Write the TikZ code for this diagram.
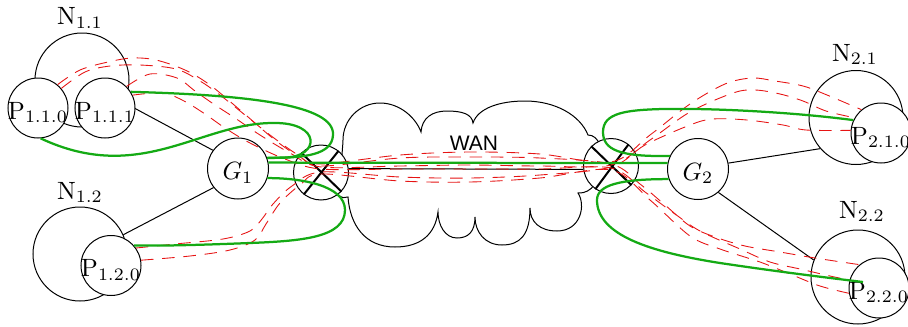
\documentclass[tikz,border=0pt]{standalone}
\usepackage{fontspec}
\newfontfamily\wanfont{Liberation Sans}
\definecolor{grn}{RGB}{20,170,20}
\definecolor{tred}{RGB}{230,20,20}
\newcommand{\ctext}[1]{\makebox[0pt]{#1}}
\begin{document}
\begin{tikzpicture}[x=0.4pt,y=-0.4pt,
  circ/.style={circle,draw,line width=0.4pt,inner sep=0pt,text height=8.8pt,text depth=0pt},
  pnode/.style={circ,fill=white,minimum size=24pt},
  gnode/.style={circ,fill=white,minimum size=24.4pt},
  nnode/.style={circle,draw,line width=0.4pt,minimum size=37.6pt,inner sep=0pt},
  rnode/.style={circle,draw,fill=white,line width=0.4pt,minimum size=22pt,inner sep=0pt},
  xline/.style={line width=0.8pt},
  link/.style={line width=0.4pt},
  tunnel/.style={draw=tred,line width=0.35pt,dash pattern=on 5pt off 3.5pt},
  gpath/.style={draw=grn,line width=0.9pt},
  lab/.style={anchor=base,inner sep=0pt}]
\useasboundingbox (0,0) rectangle (908,327);

% network circles
\node[nnode] (N11) at (82,80) {};
\node[nnode] (N12) at (80,254) {};
\node[nnode] (N21) at (856,117.5) {};
\node[nnode] (N22) at (858,277) {};
\node[lab] (l11) at (80,24.3) {N$_{1.1}$};
\node[lab] (l12) at (80,199) {N$_{1.2}$};
\node[lab] (l21) at (855,61) {N$_{2.1}$};
\node[lab] (l22) at (862,218) {N$_{2.2}$};

% gateways
\node[gnode] (G1) at (238,168.5) {\ctext{$G_1$}};
\node[gnode] (G2) at (698,169) {\ctext{$G_2$}};

% black links
\draw[link] (N11) -- (G1.144);
\draw[link] (N12.24) -- (G1.218);
\draw[link] (G2.11) -- (N21.221);
\draw[link] (G2.-49) -- (N22.159);

% hosts
\node[pnode] (P110) at (38,108) {\ctext{$\mathrm{P}_{1.1.0}$}};
\node[pnode] (P111) at (105,108) {\ctext{$\mathrm{P}_{1.1.1}$}};
\node[pnode] (P120) at (111,265.5) {\ctext{$\mathrm{P}_{1.2.0}$}};
\node[pnode] (P210) at (881,133) {\ctext{$\mathrm{P}_{2.1.0}$}};
\node[pnode] (P220) at (879,288) {\ctext{$\mathrm{P}_{2.2.0}$}};
\coordinate (g220) at (863,282);

% cloud
\draw[link,fill=white] (348,197) .. controls (336,203) and (320,172) .. (342,158)
 .. controls (342,150) and (343,145) .. (343,140)
 .. controls (343,119.6) and (359.6,103) .. (380,103)
 .. controls (400,103) and (416,118) .. (421,132)
 .. controls (422,118) and (432,111) .. (447,111)
 .. controls (462,111) and (472,114) .. (473,123)
 .. controls (478,108) and (500,101) .. (525,101)
 .. controls (555,101) and (580,115) .. (588,135)
 .. controls (610,135) and (606,195) .. (578,193)
 .. controls (586,205) and (581,231) .. (557,231)
 .. controls (540,231) and (530,222) .. (530,208)
 .. controls (530,235) and (520,245) .. (502,245)
 .. controls (485,245) and (475,232) .. (475,217)
 .. controls (475,232) and (468,238) .. (457,238)
 .. controls (445,238) and (438,225) .. (438,212)
 .. controls (435,235) and (420,247) .. (395,247)
 .. controls (365,247) and (350,225) .. (348,197) -- cycle;
\node[lab] (wan) at (474,150) {\wanfont\fontsize{8.4}{10}\selectfont WAN};

% routers
\node[rnode] (R1) at (321,172.5) {};
\node[rnode] (R2) at (611,166) {};
\draw[xline] (R1.135) -- (R1.-43) (R1.51) -- (R1.232);
\draw[xline] (R2.135) -- (R2.-43) (R2.51) -- (R2.236);
\draw[link] (R1.8.5) -- (R2.187);

% tunnels
\draw[tunnel] plot[smooth,tension=0.55] coordinates {(P110.50) (80,70) (108,62) (132,58) (156,60) (185,70) (210,85) (240,110) (275,140) (300,157) (321,164) (400,155) (470,152) (540,154) (611,162) (650,135) (690,104) (725,84) (752,78) (775,81) (803,86) (827,95) (P210.130)};
\draw[tunnel] plot[smooth,tension=0.55] coordinates {(P110.40) (85,72) (110,66) (140,65) (176,69) (200,81) (220,95) (245,115) (270,135) (298,155) (321,166) (400,158) (470,157) (540,158) (611,164) (640,184) (665,205) (690,226) (715,237) (745,246) (780,252) (815,258) (P220.130)};
\draw[tunnel] plot[smooth,tension=0.55] coordinates {(P111.45) (150,74) (177,78) (195,91) (215,105) (235,118) (260,135) (290,153) (321,167) (400,166) (470,165) (540,166) (611,165) (650,140) (690,112) (733,93) (755,90) (780,94) (803,101) (826,111) (P210.150)};
\draw[tunnel] plot[smooth,tension=0.55] coordinates {(P111.25) (163,93) (184,101) (205,114) (225,128) (250,143) (285,159) (321,169) (400,169) (470,169) (540,169) (611,168) (645,192) (675,214) (700,231) (740,249) (770,262) (800,269) (830,276) (P220.165)};
\draw[tunnel] plot[smooth,tension=0.55] coordinates {(P120.35) (175,244) (223,239) (250,231) (262,219) (273,204) (292,186) (321,172) (400,177) (470,178) (540,175) (611,167) (645,145) (690,125) (713,119) (747,120) (783,125) (806,130) (P210.175)};
\draw[tunnel] plot[smooth,tension=0.55] coordinates {(P120.10) (190,256) (230,250) (255,240) (266,224) (280,203) (300,185) (321,174) (400,181) (470,182) (540,178) (611,170) (650,200) (690,236) (720,249) (760,262) (790,274) (820,286) (P220.190)};

% green paths
\draw[gpath] (P111.32) .. controls (250,95) and (335,105) .. (333,135) .. controls (332,155) and (305,158) .. (G1.20);
\draw[gpath] (P110.-85) .. controls (140,185) and (200,123) .. (273,123) .. controls (322,122) and (320,157) .. (285,157.5) -- (G1.20);
\draw[gpath] (G1.11) -- (G2.169);
\draw[gpath] (G1.-18) .. controls (300,178) and (345,185) .. (345,210) .. controls (345,238) and (300,241) .. (250,243) .. controls (200,245) and (160,246) .. (P120.41);
\draw[gpath] (G2.155) .. controls (620,157) and (603,150) .. (603,132) .. controls (603,113) and (625,110) .. (663,109) .. controls (720,108) and (800,113) .. (P210.155);
\draw[gpath] (G2.199) .. controls (620,179) and (597,185) .. (597,200) .. controls (597,235) and (650,252) .. (720,263) .. controls (780,272) and (830,278) .. (g220);
\end{tikzpicture}
\end{document}
